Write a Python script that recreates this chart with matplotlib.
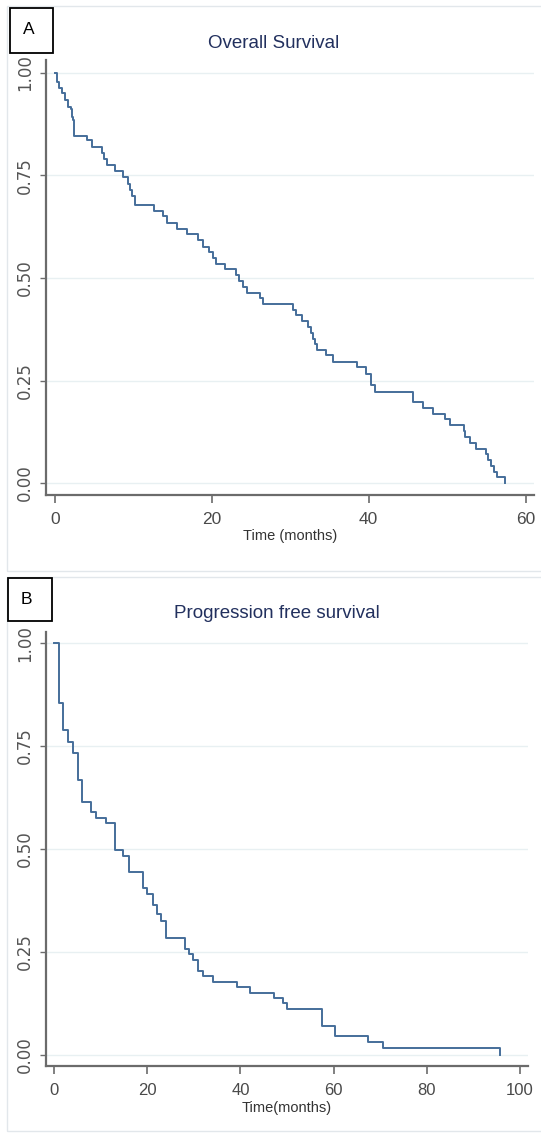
import matplotlib
matplotlib.use("Agg")
import matplotlib.pyplot as plt
from matplotlib.patches import Rectangle

# ---------------- data ----------------
os_time = [0, 0.34, 0.6, 0.9, 1.31, 1.74, 2.03, 2.16, 2.37, 2.46, 4.15, 4.8, 5.98, 6.3, 6.6,
           7.68, 8.74, 9.38, 9.6, 9.9, 10.23, 12.65, 13.84, 14.35, 15.54, 16.9, 18.3,
           18.9, 19.6, 20.2, 20.5, 21.7, 23.1, 23.5, 24.0, 24.45, 26.15, 26.5, 30.3, 30.8,
           31.5, 32.3, 32.7, 32.9, 33.1, 33.4, 34.6, 35.5, 38.5, 39.7, 40.3, 40.8, 45.6,
           46.9, 48.2, 49.7, 50.3, 52.1, 52.3, 52.9, 53.7, 55.0, 55.2, 55.6, 56.0, 56.3,
           57.4]
os_surv = [1.0, 0.978, 0.962, 0.950, 0.933, 0.917, 0.911, 0.893, 0.885, 0.845, 0.836, 0.818,
           0.804, 0.790, 0.775, 0.761, 0.746, 0.730, 0.715, 0.700, 0.677, 0.664, 0.650,
           0.634, 0.620, 0.607, 0.592, 0.576, 0.562, 0.548, 0.535, 0.521, 0.507, 0.492,
           0.478, 0.463, 0.450, 0.436, 0.422, 0.409, 0.395, 0.380, 0.366, 0.352, 0.340,
           0.325, 0.311, 0.295, 0.282, 0.267, 0.238, 0.222, 0.198, 0.183, 0.169, 0.155,
           0.141, 0.127, 0.113, 0.098, 0.084, 0.070, 0.056, 0.042, 0.028, 0.014, 0.0]

pfs_time = [0, 1.04, 1.9, 2.97, 4.04, 5.1, 6.05, 7.99, 9.06, 11.2, 13.0, 14.9, 16.07, 19.2,
            19.9, 21.2, 22.0, 23.0, 24.1, 28.0, 28.96, 29.8, 30.9, 32.0, 34.1, 39.3, 42.1,
            47.2, 49.2, 50.0, 57.4, 60.3, 67.4, 70.6, 95.6]
pfs_surv = [1.0, 0.855, 0.789, 0.760, 0.734, 0.668, 0.615, 0.589, 0.575, 0.563, 0.497, 0.484,
            0.443, 0.406, 0.390, 0.363, 0.343, 0.325, 0.285, 0.258, 0.245, 0.231, 0.204,
            0.192, 0.177, 0.166, 0.150, 0.138, 0.126, 0.111, 0.071, 0.045, 0.032, 0.017, 0.0]

y_ticks = [0.0, 0.25, 0.5, 0.75, 1.0]
y_ticklabels = ["0.00", "0.25", "0.50", "0.75", "1.00"]
os_xticks = [0, 20, 40, 60]
pfs_xticks = [0, 20, 40, 60, 80, 100]

titles = ["Overall Survival", "Progression free survival"]
xlabels = ["Time (months)", "Time(months)"]
panel_letters = ["A", "B"]

# ---------------- figure ----------------
W, H = 541, 1137
fig = plt.figure(figsize=(W / 100, H / 100), dpi=100)
fig.patch.set_facecolor("white")

FONT = ["Liberation Sans", "DejaVu Sans"]
LINE_C = "#456e9a"
SPINE_C = "#6b6b6b"
GRID_C = "#e8f0f2"
TICK_C = "#4a4a4a"
TITLE_C = "#22305e"


def fx(px):
    return px / W


def fy(py):
    return 1 - py / H


# light outer panel borders
for (x0, y0, x1, y1) in [(7, 6, 545, 571), (7, 577, 545, 1131)]:
    fig.patches.append(Rectangle((fx(x0), fy(y1)), fx(x1 - x0), (y1 - y0) / H,
                                 transform=fig.transFigure, fill=False,
                                 edgecolor="#e2e7eb", lw=1.0))


def make_axes(l, r, b, t, times, surv, xlim, ylim, xticks, xfont):
    ax = fig.add_axes([fx(l), fy(b), fx(r - l), (b - t) / H])
    ax.step(times, surv, where="post", color=LINE_C, lw=1.4)
    ax.set_xlim(*xlim)
    ax.set_ylim(*ylim)
    ax.set_yticks(y_ticks)
    ax.set_yticklabels(y_ticklabels, rotation=90, va="center", fontsize=12,
                       family="DejaVu Sans", color="#555555")
    ax.set_xticks(xticks)
    ax.set_xticklabels([str(v) for v in xticks], fontsize=xfont, family=FONT,
                       color=TICK_C)
    ax.grid(axis="y", color=GRID_C, lw=1.0)
    ax.set_axisbelow(True)
    for s in ["top", "right"]:
        ax.spines[s].set_visible(False)
    for s in ["left", "bottom"]:
        ax.spines[s].set_color(SPINE_C)
        ax.spines[s].set_linewidth(1.6)
    ax.tick_params(axis="x", length=6, width=1.2, color=SPINE_C, pad=6)
    ax.tick_params(axis="y", length=4.5, width=1.0, color=SPINE_C, pad=4)
    return ax


ax1 = make_axes(46, 534, 495, 60, os_time, os_surv,
                (-1.11, 61.06), (-0.029, 1.031), os_xticks, 12.5)
ax2 = make_axes(46, 528, 1066, 632, pfs_time, pfs_surv,
                (-1.72, 101.7), (-0.027, 1.027), pfs_xticks, 12)

# titles
fig.text(fx(274), fy(43), titles[0], ha="center", va="center", fontsize=13.5,
         family=FONT, color=TITLE_C)
fig.text(fx(277), fy(613), titles[1], ha="center", va="center", fontsize=13.5,
         family=FONT, color=TITLE_C)

# x labels
fig.text(fx(290), fy(536), xlabels[0], ha="center", va="center", fontsize=10.5,
         family=FONT, color="#333333")
fig.text(fx(287), fy(1108), xlabels[1], ha="center", va="center", fontsize=10.5,
         family=FONT, color="#333333")

# panel letter boxes
for (x0, y0, x1, y1), letter in zip([(9.5, 7.5, 52.5, 52.5), (7.5, 577.5, 51.5, 621)],
                                     panel_letters):
    fig.patches.append(Rectangle((fx(x0), fy(y1)), fx(x1 - x0), (y1 - y0) / H,
                                 transform=fig.transFigure, facecolor="white",
                                 edgecolor="black", lw=1.3, zorder=5))
    fig.text(fx(x0 + 19), fy((y0 + y1) / 2), letter, ha="center", va="center",
             fontsize=12.5, family=FONT, color="black", zorder=6)

fig.savefig("out.png", dpi=100)
